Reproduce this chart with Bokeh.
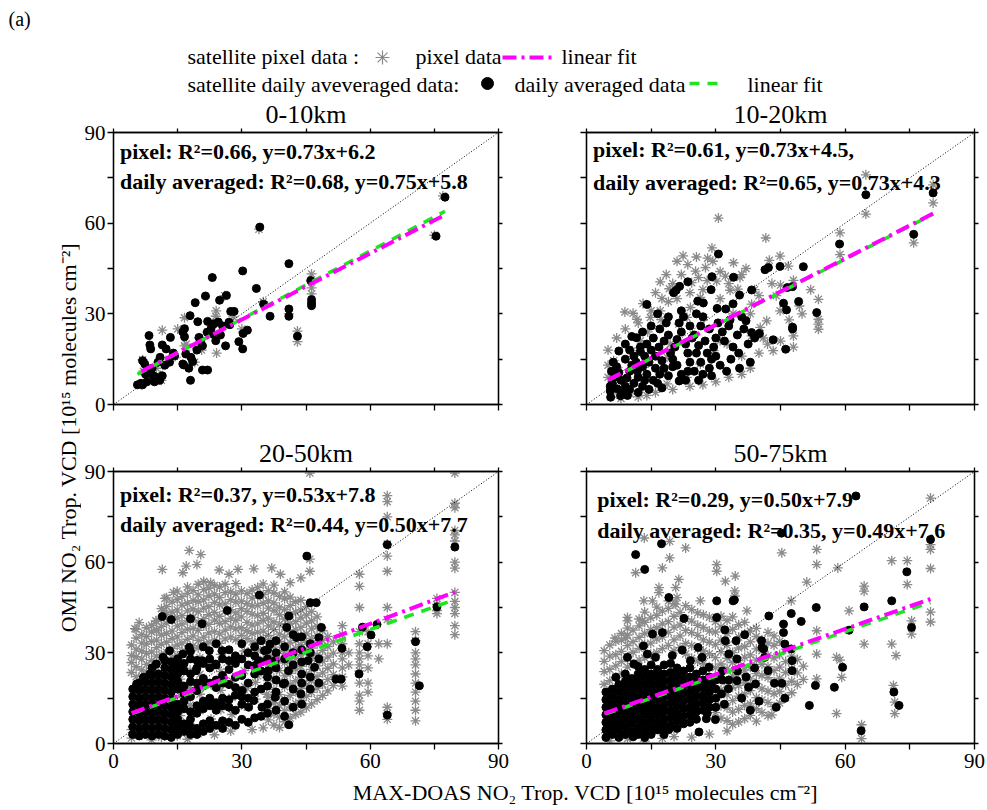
import numpy as np
from bokeh.plotting import figure
from bokeh.layouts import column, row
from bokeh.models import Range1d, LinearAxis, FixedTicker, Title
from bokeh.embed import file_html
from bokeh.resources import INLINE
from bokeh.core.properties import value

FONT = "Liberation Serif"

titles = ["0-10km", "10-20km", "20-50km", "50-75km"]
pixel_fit = [(0.73, 6.2), (0.73, 4.5), (0.53, 7.8), (0.50, 7.9)]
daily_fit = [(0.75, 5.8), (0.73, 4.3), (0.50, 7.7), (0.49, 7.6)]
pixel_r2 = ["0.66", "0.61", "0.37", "0.29"]
daily_r2 = ["0.68", "0.65", "0.44", "0.35"]
pixel_tail = ["", ",", "", ""]
axis_ticks = [0, 30, 60, 90]
minor_ticks = [15, 45, 75]
all_ticks = [0, 15, 30, 45, 60, 75, 90]

# data: (MAX-DOAS value, OMI value or list of OMI values)
pix1 = [(46.3, [43.2, 38.6, 36.6]), (43.0, [24.3, 20.8]), (16.6, [28.7, 19.4]), (11.4, 24.6), (23.9, 29.2),
        (24.1, 17.0), (11.2, 8.0), (6.5, 6.5), (20.6, 18.0), (6.8, 14.8), (24, 31), (20, 22), (8, 10), (10, 12),
        (30, 25), (35, 34), (41, 30), (28, 29), (13, 15), (17, 20), (22, 24), (75, 56), (77, 69), (34, 58),
        (26, 36), (19, 14), (9, 8), (7, 11), (15, 25), (27, 27)]
day1 = [(77.5, 68.6), (75.4, 55.7), (34.2, 58.7), (41.0, [46.6, 31.6, 29.2]), (30.2, [44.2, 18.4]),
        (23.1, [42.0, 23.3]), (33.4, 38.4), (46.1, 41.0), (26.4, 36.1), (21.5, 35.9), (24.8, 34.5), (19.1, 33.7),
        (35.1, 33.2), (46.3, [34.7, 33.6, 32.7]), (28.2, 30.8), (27.4, 30.8), (36.6, 29.2), (17.9, 29.4),
        (19.7, 27.4), (23.5, 26.7), (24.5, 27.3), (22.8, 25.1), (27.0, 27.2), (27.2, 26.4), (16.6, [25.1, 22.4]),
        (16.2, [24.0, 13.4]), (31.3, 24.6), (30.3, 23.5), (8.3, 22.8), (13.3, 22.2), (20.0, 22.2), (20.4, 21.1),
        (21.9, 23.9), (23.9, 21.1), (11.4, [19.7, 9.5]), (12.3, 18.4), (8.5, [19.7, 11.0]), (8.7, 18.4),
        (29.3, 20.8), (26.2, 19.4), (20.8, [19.4, 11.4]), (19.5, 18.0), (18.1, 15.6), (16.9, 16.7), (16.4, 13.1),
        (14.3, 16.1), (13.1, 14.0), (18.5, 14.2), (17.6, 12.0), (10.9, 15.6), (10.4, 14.0), (7.3, 13.4),
        (6.8, [14.5, 6.5]), (22.0, [11.4, 27.5]), (7.5, 10.0), (9.3, 9.5), (10.0, 9.0), (10.8, 8.0), (6.4, 7.0),
        (7.8, 7.5), (9.6, 7.5), (18.0, 8.0), (5.6, 6.5), (43.0, 22.6), (25.5, 26.0), (14.0, 17.0), (12.0, 13.0),
        (9.0, 12.0), (25.0, 23.0)]

pix2 = [(64.8, [76, 63]), (30.6, 61.7), (41.6, 55.1), (29.1, 51.8), (25.5, 48.8), (21.0, 47.4), (23.5, 46.3),
        (18.5, 43.0), (17.1, [40.6, 31.0]), (17.5, 35.1), (8.9, 30.6), (14.2, 24.0), (29.3, 47.4), (34.1, 46.9),
        (35.6, 42.0), (33.3, 37.8), (38.3, [33.2, 22.7]), (42.4, 47.7), (44.9, [49.1, 31.0]), (46.8, 45.8),
        (45.0, 39.5), (48.0, 41.1), (49.4, 32.6), (41.8, 27.7), (40.3, 25.5), (43.3, 17.8), (58.8, [56.8, 49.6]),
        (53.8, [34.8, 28.2, 26.6, 24.9]), (75.9, 53.5), (80.4, [66.7, 72.7]), (32.6, 20.0), (31.0, 21.1),
        (27.2, 28.8), (26.4, [35.4, 13.4]), (24.1, 32.1), (23.3, [28.8, 9.0]), (21.4, 26.6), (19.4, 20.0),
        (18.7, [15.6, 6.8]), (13.3, 12.3), (10.2, 3.5), (9.0, 4.5), (6.3, 14.5), (7.5, 11.2), (14.8, 28.8),
        (12.5, 21.1), (10.6, 17.8), (29.5, 17.8), (6, 3.5), (8, 2), (12, 2.5), (14, 3), (16, 4), (20, 5), (24, 6),
        (27, 6.5), (30, 7.5), (33, 9), (36, [10, 16, 43]), (38, [12, 30]), (40, [17, 36]), (42, 20), (34, 30),
        (31, [35, 44]), (27, 38), (24, 37), (19, 34), (15, 31), (12, 27), (9, 25), (7, 22), (5, [18, 13, 9]),
        (43, 40), (26, 42), (22, 43), (20, 40), (21, 35), (11.7, 28.2), (16, 37), (28, 41), (33, 40), (37, 45),
        (39, 38), (44, 36), (47, 28), (50, 30), (52, 38), (45, 21), (48, [19, 22.7]), (41, 22),
        (22.4, 49.2), (25.3, 44.1), (27.6, 45.3), (30.2, 40.8), (19.2, 38.3), (13.1, 33.4), (10.8, 30.2),
        (28.1, 48.4), (32.2, 42.5), (35.1, 38.2), (24.4, 40.3), (17.3, 28.1)]
day2 = [(80.4, 70.0), (64.8, 69.4), (75.9, 56.3), (58.7, 53.1), (50.3, 45.6), (44.9, 45.7), (42.2, 45.3),
        (41.4, 44.6), (30.6, 49.8), (34.1, 42.1), (29.1, 42.3), (23.5, [40.6, 17, 11]), (21.6, 39.1), (20.8, 37.8),
        (14.0, [33.1, 10, 20]), (38.3, [37.9, 23.8]), (35.5, [36.2, 12]), (34.0, [33.3, 19]), (32.3, 31.6),
        (30.3, 31.8), (25.8, 34.2), (27.1, 33.6), (20.2, 37.0), (28.9, 38.0), (45.7, 33.5), (46.4, 31.3),
        (47.8, [39.0, 25.6, 25.0]), (46.6, 38.7), (49.2, 34.1), (43.3, 21.4), (46.2, 18.3), (35.3, 17.0),
        (40.1, 23.5), (53.4, 30.4), (37.0, 27.7), (33.3, 28.0), (11.6, 22.1), (7.5, [17.7, 10.5]),
        (5.5, [4.5, 6]), (5.6, 2.4), (7.9, 2.9), (7.1, 5.2), (6.0, 7), (6.5, 9), (5.8, 11), (7.0, 12.5), (6.2, 14),
        (8.0, 8), (8.5, 4), (9.0, [6, 15, 20]), (9.4, 8.8), (10.0, [11, 18, 5]), (10.5, [13, 22.5]), (11.0, [16, 7]),
        (11.5, 14), (12.0, [9, 4]), (9.5, 3), (11.8, 11), (12.5, [19, 17.5]), (13.0, [6, 12.5, 24]),
        (13.5, [8, 16]), (14.5, [14, 5]), (15.0, [18, 26]), (15.5, [22, 8]), (16.0, [12, 16]), (16.5, [7, 30]),
        (17.0, [10, 25]), (18.0, [12, 21]), (17.5, [14.5, 5.5]), (16.8, 19), (19.0, [23, 9.5, 29]), (18.5, 27),
        (19.5, 17), (20.0, [12.5, 15]), (20.5, 19), (21.0, [21.5, 13]), (22.0, [24, 10, 31]), (21.5, [27, 7.8]),
        (22.5, 29), (23.0, [20, 8]), (24.0, [14, 26]), (24.5, 22), (25.0, [11, 23]), (25.5, [17, 30]),
        (26.0, [19.5, 8]), (26.5, [26, 14]), (27.0, [29, 10]), (27.5, 21), (28.0, 17), (28.5, [12, 25]),
        (29.0, [15, 9.5]), (29.5, 19), (30.0, [22, 16]), (30.5, 27), (31.0, 13), (31.5, 24), (32.0, 21), (33.0, 26),
        (33.5, 15), (35.0, 23), (32.5, 11), (36.5, 25), (37.5, 20), (38.0, 14), (39.0, 22), (36.0, 29)]

pix3 = [(4.2, [1.8, 4.6, 23.5, 26.8, 29.1, 32.6]), (5.3, [22.1, 25.4, 28.7, 31.2, 34.9, 37.8]),
        (6.6, [2.7, 21.4, 24.3, 27.9, 30.6, 33.2, 36.1]), (7.7, [23.6, 26.2, 29.8, 32.9, 35.4, 38.3]),
        (8.9, [1.2, 24.8, 27.5, 30.3, 33.8, 36.9, 39.1]), (10.1, [25.2, 28.9, 31.7, 34.2, 37.6, 40.4]),
        (11.2, [2.1, 26.6, 29.4, 32.8, 35.9, 38.7, 41.3, 44.6]),
        (12.4, [27.3, 30.2, 33.5, 36.4, 39.8, 42.7, 45.3, 48.2]),
        (13.7, [28.5, 31.4, 34.7, 37.2, 40.9, 43.5, 46.8]),
        (14.9, [2.6, 29.1, 32.6, 35.3, 38.9, 41.6, 44.2, 47.7, 50.4]),
        (16.0, [30.4, 33.2, 36.7, 39.5, 42.3, 45.8, 48.6]),
        (17.3, [1.4, 31.2, 34.5, 37.8, 40.6, 43.9, 46.4, 49.7, 51.8]),
        (18.6, [32.3, 35.6, 38.1, 41.7, 44.5, 47.3, 50.6]),
        (19.8, [3.2, 31.6, 34.1, 37.4, 40.2, 43.6, 46.9, 49.2, 52.7]),
        (21.1, [32.8, 35.2, 38.9, 41.3, 44.8, 47.5, 50.9, 53.6]),
        (22.3, [33.5, 36.6, 39.4, 42.6, 45.3, 48.8, 51.4]),
        (23.6, [2.9, 34.2, 37.1, 40.8, 43.4, 46.7, 49.5, 52.3]),
        (24.8, [33.1, 36.2, 39.7, 42.1, 45.9, 48.3, 51.8]),
        (26.1, [34.6, 37.5, 40.3, 43.8, 46.2, 49.9, 52.7]),
        (27.4, [4.1, 35.2, 38.6, 41.5, 44.3, 47.6, 50.2]),
        (28.6, [34.4, 37.9, 40.7, 43.2, 46.8, 49.4, 52.9]),
        (29.9, [35.8, 38.3, 41.9, 44.6, 47.1, 50.5]),
        (31.2, [18.3, 34.7, 37.3, 40.1, 43.7, 46.3, 49.6]),
        (32.4, [4.6, 33.6, 36.4, 39.2, 42.8, 45.5, 48.1, 50.8]),
        (33.7, [22.4, 30.8, 33.9, 36.8, 39.6, 42.3, 45.7, 48.9, 51.6]),
        (35.0, [5.2, 27.9, 31.1, 34.5, 37.2, 40.7, 43.1, 46.4, 49.3, 52.8]),
        (36.2, [7.8, 11.6, 15.3, 19.7, 23.5, 26.4, 29.6, 33.2, 35.8, 38.9, 41.5, 44.8, 47.2, 50.6]),
        (37.5, [6.1, 9.8, 13.4, 17.9, 21.6, 25.8, 28.3, 31.9, 34.6, 37.7, 40.2, 43.9, 46.5, 49.8, 52.4]),
        (38.8, [5.3, 8.7, 12.5, 16.2, 20.3, 24.1, 27.5, 30.4, 33.8, 36.2, 39.5, 42.6, 45.1, 48.7]),
        (40.0, [7.2, 10.9, 14.6, 18.8, 22.4, 26.7, 29.8, 32.5, 35.3, 38.6, 41.2, 44.3, 47.9, 50.2]),
        (41.3, [8.4, 12.1, 15.9, 19.6, 23.2, 27.3, 30.6, 33.4, 36.9, 39.7, 42.8, 45.6, 48.4]),
        (42.6, [9.6, 13.2, 17.1, 20.8, 24.6, 28.1, 31.5, 34.2, 37.6, 40.3, 43.5, 46.9]),
        (43.8, [10.4, 14.3, 18.2, 21.9, 25.5, 29.4, 32.7, 35.6, 38.4, 41.6, 44.2, 47.4]),
        (45.1, [11.8, 15.6, 19.4, 23.1, 26.9, 30.2, 33.5, 36.3, 39.8, 42.5, 45.3]),
        (46.3, [13.1, 16.9, 20.7, 24.5, 28.2, 31.6, 34.8, 37.9, 40.6, 43.7]),
        (47.6, [14.5, 18.3, 22.1, 25.7, 29.3, 32.9, 35.7, 38.8, 41.9]),
        (48.9, [15.9, 19.6, 23.4, 27.2, 30.8, 34.1, 37.3]), (50.1, [17.4, 21.2, 24.9, 28.6, 32.1, 35.4]),
        (51.4, [19.2, 22.8, 26.3, 29.9, 33.6]),
        (15.6, [9.2, 15.8, 21.3]), (17.9, [6.4, 12.7, 18.6, 24.2]), (20.2, [10.8, 16.3, 22.9, 28.4]),
        (22.8, [8.1, 13.9, 19.4, 25.6]), (25.1, [11.2, 17.6, 23.8, 29.5]), (27.7, [9.6, 15.2, 20.7, 27.9]),
        (30.6, [12.4, 18.9, 24.1, 30.6]), (33.2, [14.7, 20.2, 26.5]), (35.8, [16.3, 21.8, 27.2]),
        (53.5, [19, 22, 25, 28, 30, 33, 36, 39]), (55.0, [26, 30]),
        (57.5, [11, 14, 16, 20, 24, 26, 28, 30, 33, 37, 45, 52, 56]),
        (59.5, [17, 20, 25, 29, 33, 37]), (62.0, [28, 33]), (64.0, [8, 10, 12, 33, 41, 45, 57, 62, 66, 75, 80, 82]),
        (70.6, [7.5, 11, 14, 17, 20, 23, 26, 28, 30, 34, 37]), (75.6, [43, 44, 46, 48]),
        (79.8, [36, 39, 43, 45, 47, 50, 58, 60, 67, 69, 70.5, 78, 79.5, 89.5]), (45.9, [57, 61, 89.5]),
        (11.4, 57.6), (17.7, 63.9), (20.4, 62.5), (17.0, 58.7), (19.5, 59.2), (16.2, 56.5), (22.7, 53.2),
        (24.7, 57.4), (29.1, 57.6), (32.8, 57.8), (37.0, 58.1), (41.3, 53.2), (43.8, 54.8), (10.0, 37.3),
        (11.7, 43.9), (9.9, 40.6), (39.0, 56), (27.0, 56), (14.0, 50), (12.0, 48), (6.0, 40), (5.0, 38)]
day3 = [(64.0, [65.8, 9.4]), (79.8, 65.0), (75.6, 45.2), (70.6, 33.7), (71.5, 19.1), (57.4, 23.0), (58.2, 38.5),
        (60.2, 35.9), (59.3, 32.0), (61.6, 39.4), (53.4, 31.5), (52.0, 21.3), (53.2, 21.3), (45.2, 62.0),
        (46.0, 46.6), (47.4, 46.6), (34.1, 49.1), (41.0, [42.2, 6.2]), (26.6, 44.0), (11.4, 42.0), (13.5, 41.0),
        (18.0, 41.3), (20.7, 39.6), (19.5, 3.0), (48.6, 38.4), (44.0, [35.3, 23.0]), (42.8, 35.1), (40.5, 38.4),
        (36.6, 32.9), (35.3, 30.7), (33.9, 27.4), (33.0, 25.7), (37.8, [27.4, 15.3]), (36.2, 24.1), (45.5, 27.4),
        (47.0, 25.2), (43.8, 16.4), (40.9, 24.1), (39.7, 19.7), (34.7, 12.0), (32.8, 14.2), (31.6, 12.0),
        (30.1, 17.5), (28.5, 21.9), (27.0, 27.4), (25.4, 30.7), (23.9, 26.3), (22.4, 30.7), (20.8, 27.4),
        (19.3, 24.1), (17.7, 31.8), (16.2, 29.6), (14.6, 26.3), (13.1, 30.7), (11.6, 28.5), (10.0, 26.3),
        (8.5, 23.0), (7.0, 21.9), (5.4, 19.7),
        (4.5, [3, 5.5, 8, 10.5, 13, 15.5, 18]), (6.0, [2.5, 5, 7.5, 10, 12.5, 15, 17.5, 20]),
        (7.5, [3, 5.5, 8, 10.5, 13, 15.5, 18, 20.5]), (9.0, [2.5, 5, 7.5, 10, 12.5, 15, 17.5, 20, 22.5, 25]),
        (10.5, [3, 5.5, 8, 10.5, 13, 15.5, 18, 20.5, 23]),
        (12.0, [2.5, 5, 7.5, 10, 12.5, 15, 17.5, 20, 22.5, 25, 27.5]),
        (13.5, [2, 4.5, 7, 9.5, 12, 14.5, 17, 19.5, 22, 24.5, 27]),
        (15.0, [3, 5.5, 8, 10.5, 13, 18, 20.5, 23, 25.5, 28]),
        (16.5, [4, 6.5, 11.5, 14, 16.5, 19, 24, 26.5]),
        (18.0, [3, 5.5, 8, 10.5, 15.5, 20.5, 23, 28, 30.5]),
        (19.5, [5, 10, 12.5, 17.5, 20, 25, 27.5]), (21.0, [4, 6.5, 11.5, 14, 19, 21.5, 26.5, 32]),
        (22.5, [5, 7.5, 12.5, 15, 20, 25, 28]), (24.0, [6, 11, 13.5, 18.5, 21, 26, 33]),
        (25.5, [5, 7.5, 12.5, 15, 20, 22.5, 28]), (27.0, [7, 12, 14.5, 19.5, 24.5, 31]),
        (28.5, [6, 11, 16, 18.5, 26.5, 29]), (30.0, [8, 13, 15.5, 22.5, 28, 33]), (31.5, [7, 15, 20, 26, 30]),
        (33.0, [8.5, 17, 23, 29, 32]), (34.5, [9, 18, 24, 27, 34]), (36.0, [10, 13, 19, 22, 28, 31]),
        (38.0, [11, 17, 21, 25, 30, 34]), (40.0, [9, 14, 20, 28, 32]), (42.0, [12, 18, 26, 30, 36]),
        (44.0, [13, 20, 27, 31]), (46.0, [18, 22, 30, 33]), (48.0, [20, 28, 35])]

pix4 = [(4.1, [19.6, 23.8, 27.2, 30.7]), (5.4, [0.9, 20.8, 24.5, 28.9, 32.6]), (6.8, [21.9, 25.7, 29.4, 33.8]),
        (8.1, [23.2, 27.1, 30.5, 34.2, 36.4]), (9.5, [1.6, 25.3, 28.6, 32.4, 35.9, 38.2]),
        (10.8, [26.4, 30.2, 33.7, 37.5]), (12.2, [27.6, 31.5, 35.1, 38.9, 41.2]),
        (13.5, [0.8, 28.3, 32.8, 36.4, 40.1, 43.5]), (14.9, [29.5, 33.2, 37.7, 41.6]),
        (16.3, [30.1, 34.6, 38.3, 42.4, 45.1]), (17.6, [1.7, 31.4, 35.2, 39.6, 43.8]),
        (19.0, [32.5, 36.8, 40.3, 44.7, 47.2]), (20.3, [2.3, 30.7, 34.3, 38.5, 42.1, 46.3]),
        (21.7, [31.8, 35.6, 39.2, 43.4]), (23.0, [29.6, 33.1, 37.4, 41.2, 45.6]),
        (24.4, [2.1, 28.2, 32.4, 36.7, 40.5, 44.3]), (25.8, [27.3, 31.2, 35.8, 39.1, 43.2]),
        (27.1, [26.5, 30.6, 34.3, 38.4, 42.6]), (28.5, [3.1, 25.4, 29.7, 33.5, 37.2, 41.8]),
        (29.9, [10.2, 14.6, 25.1, 28.4, 32.7, 36.9, 40.3]), (31.2, [8.4, 12.5, 17.8, 26.3, 30.4, 34.2, 38.6, 42.1]),
        (32.6, [4.2, 7.6, 11.8, 16.1, 20.4, 24.7, 28.2, 32.5, 36.4, 40.7]),
        (33.9, [6.3, 10.4, 14.2, 18.6, 22.3, 26.8, 30.1, 37.8, 41.9]),
        (35.3, [7.1, 11.3, 15.7, 19.2, 23.5, 27.4, 31.6, 35.2, 39.3]),
        (36.7, [8.2, 12.6, 16.4, 20.1, 24.3, 28.5, 32.1, 36.3, 40.1]),
        (38.0, [9.3, 13.1, 17.5, 21.4, 25.2, 29.3, 33.6, 37.2]),
        (39.4, [7.4, 11.5, 15.2, 19.8, 23.1, 27.6, 31.3, 35.4, 38.1]),
        (40.7, [10.3, 14.4, 18.1, 22.5, 26.2, 30.7, 34.3]), (42.1, [9.2, 13.6, 17.3, 21.8, 25.4, 29.1, 33.2, 36.8]),
        (43.5, [12.2, 16.5, 20.4, 24.1, 28.3, 32.5, 35.6]), (44.8, [13.4, 17.2, 21.6, 25.3, 29.4, 33.8]),
        (46.2, [15.1, 19.3, 23.5, 27.1, 31.2]), (47.6, [16.8, 20.6, 24.7, 28.9]), (48.9, [19.5, 23.4, 27.8]),
        (50.3, [21.2, 25.6]),
        (45.3, 63.1), (53.4, [64.2, 59.2, 37.3, 29.6, 21.4]), (70.8, [60.5, 32.9]),
        (74.4, [60.5, 52.6]), (79.8, [81.2, 65.8, 64.2, 57.9, 43.5, 40.2]), (58.3, 58.1), (64.4, [52.1, 50.4, 32.9]),
        (60.9, 43.9), (71.8, 29.1), (75.4, [40.6, 36.2]), (71.2, 19.2), (71.5, [13.7, 9.9]), (63.8, [6.2, 1.6]),
        (58.0, [28.5, 9.9]), (58.8, 27.6), (59.2, 21.9), (51.1, 53.4), (47.5, 47.2), (43.0, 9.5), (37.2, 43.9),
        (34.5, 55.4), (32.2, 53.7), (34.4, [50.5, 48.8]), (30.2, [59.2, 57.0]), (26.4, 47.2), (21.4, 54.3),
        (20.7, [51.6, 46.1]), (16.8, [51.6, 49.9]), (13.3, 47.2), (15.3, 47.2), (9.5, [41.7, 40.6]), (6.6, 34.9),
        (9.1, 34.9), (13.0, 40.6), (21.0, 48.3), (13.4, 68.0), (19.3, [66.9, 61.4]), (23.0, 64.7), (17.6, 58.1),
        (11.4, 56.5)]
day4 = [(62.5, 81.9), (45.2, 69.6), (17.4, 66.1), (11.4, 62.5), (13.5, 57.6), (79.8, 67.5), (74.3, 56.8),
        (75.4, 38.4), (70.8, 47.2), (64.4, 45.2), (53.3, 45.0), (60.9, 37.5), (19.1, [48.3, 4.6]),
        (30.2, [47.2, 41.7]), (34.0, 47.2), (34.3, 47.5), (22.6, 41.4), (17.6, 36.7), (13.2, 32.3), (15.3, 36.2),
        (32.1, 37.6), (42.3, 42.2), (47.5, [43.0, 31.3]), (49.8, 40.4), (36.7, 36.0), (40.6, 34.0), (40.7, 31.8),
        (45.7, [39.5, 36.7]), (46.0, 32.9), (47.7, [27.4, 24.1]), (41.1, 31.3), (41.3, 28.5), (53.1, 19.2),
        (57.5, 18.6), (59.4, 25.2), (51.7, 12.6), (71.3, 17.0), (72.5, 12.6), (63.7, 4.2), (38.0, 11.0),
        (27.8, 8.2), (29.9, 7.9), (26.1, 3.8), (10.8, 2.2), (43.6, 19.9), (45.3, 19.9), (42.1, 24.1),
        (34.9, [28.0, 20.8]), (33.0, 29.6), (32.2, 34.0), (34.7, 34.0), (32.9, 18.1), (37.6, 18.6), (39.2, 19.7),
        (31.3, 16.4), (25.9, 31.8), (26.8, 28.5), (28.4, 25.2), (24.1, 27.4), (22.2, 30.9), (19.9, 29.1),
        (16.0, 28.5), (14.1, 29.6), (11.0, 26.3), (9.5, 28.5), (6.8, 21.9), (29, 20), (31, 22), (33, 21), (30, 15),
        (32, 13), (28, 10), (35, 24), (37, 22), (39, 25), (36, 15), (40, 14), (44, 12), (46, 15),
        (4.5, [2, 4.5, 7, 9.5, 12, 14.5, 17]), (6.0, [3, 5.5, 8, 10.5, 13, 15.5, 18]),
        (7.5, [2, 4.5, 7, 9.5, 12, 14.5, 17, 19.5]), (9.0, [3, 5.5, 8, 10.5, 13, 15.5, 18, 20.5, 23]),
        (10.5, [4, 6.5, 9, 11.5, 14, 16.5, 19, 21.5]), (12.0, [3, 5.5, 8, 10.5, 13, 15.5, 18, 20.5, 23, 25.5]),
        (13.5, [2, 4.5, 7, 9.5, 12, 14.5, 17, 19.5, 22, 24.5]), (15.0, [3, 5.5, 8, 10.5, 13, 15.5, 18, 20.5, 23, 26]),
        (16.5, [4.5, 7, 9.5, 12, 14.5, 17, 19.5, 22, 24.5]), (18.0, [3, 5.5, 8, 10.5, 13, 15.5, 18, 20.5, 23, 26]),
        (19.5, [6, 8.5, 11, 13.5, 16, 18.5, 21, 23.5, 26.5]), (21.0, [5, 7.5, 10, 12.5, 15, 17.5, 20, 22.5, 25]),
        (22.5, [6.5, 9, 11.5, 14, 16.5, 19, 21.5, 24]), (24.0, [7, 9.5, 12, 14.5, 17, 19.5, 22, 25]),
        (25.5, [8, 10.5, 13, 15.5, 18, 20.5, 23]), (27.0, [11, 13.5, 16, 18.5, 21, 24]),
        (28.5, [12, 14.5, 17, 19.5, 22]), (30.0, [12, 18, 21]), (31.5, [21, 24])]

pixel_data = [pix1, pix2, pix3, pix4]
daily_data = [day1, day2, day3, day4]

x_label = "MAX-DOAS NO\u2082 Trop. VCD [10\u00b9\u2075 molecules cm\u207b\u00b2]"
y_label = "OMI NO\u2082 Trop. VCD [10\u00b9\u2075 molecules cm\u207b\u00b2]"
legend_pixel = ["satellite pixel data :", "pixel data", "linear fit"]
legend_daily = ["satellite daily aveveraged data:", "daily averaged data", "linear fit"]

GRAY = "#8a8a8a"
MAGENTA = "#ff00ff"
GREEN = "#1ee61e"


def flat(cols):
    xs, ys = [], []
    for x, v in cols:
        vals = v if isinstance(v, (list, tuple)) else [v]
        for y in vals:
            xs.append(x)
            ys.append(y)
    return np.array(xs, float), np.array(ys, float)


def text_fig(w, h, flip=True):
    f = figure(width=w, height=h, x_range=Range1d(0, w), y_range=Range1d(h, 0) if flip else Range1d(0, h),
               min_border=0, toolbar_location=None, output_backend="svg",
               x_axis_location=None, y_axis_location=None)
    f.outline_line_color = None
    f.grid.visible = False
    return f


def add_text(f, x, y, s, size, align="left", bold=False, angle=0):
    f.text(x=[x], y=[y], text=[s], text_font=value(FONT), text_font_size=size, text_color="black",
           text_align=align, text_baseline="middle", text_font_style="bold" if bold else "normal", angle=angle)


def make_panel(k, w, h, bl, br, bt, bb, left_lab, bottom_lab, tx, ty1, ty2, title_offset):
    p = figure(width=w, height=h, x_range=Range1d(0, 90), y_range=Range1d(0, 90),
               output_backend="svg", toolbar_location=None,
               x_axis_location=None, y_axis_location=None,
               min_border_left=bl, min_border_right=br, min_border_top=bt, min_border_bottom=bb)
    p.grid.visible = False
    p.outline_line_color = "black"
    p.outline_line_width = 1.3
    for loc in ("below", "left", "above", "right"):
        labeled = (loc == "below" and bottom_lab) or (loc == "left" and left_lab)
        if labeled:
            ax = LinearAxis(ticker=FixedTicker(ticks=axis_ticks, minor_ticks=minor_ticks))
            ax.major_label_text_font = FONT
            ax.major_label_text_font_size = "21px"
            ax.major_label_text_color = "black"
            ax.major_label_standoff = 2 if loc == "left" else 4
        else:
            ax = LinearAxis(ticker=FixedTicker(ticks=[], minor_ticks=all_ticks))
            ax.major_label_standoff = 0
        ax.axis_line_color = "black"
        ax.axis_line_width = 1.3
        ax.major_tick_line_color = "black"
        ax.minor_tick_line_color = "black"
        ax.major_tick_line_width = 1.3
        ax.minor_tick_line_width = 1.3
        ax.major_tick_in = 0
        ax.minor_tick_in = 0
        out = 6 if loc in ("below", "left") else 4
        ax.major_tick_out = out
        ax.minor_tick_out = out
        p.add_layout(ax, loc)

    # panel title, stacked above the top axis
    p.add_layout(Title(text=titles[k], align="center", offset=title_offset, standoff=0,
                       text_font=FONT, text_font_size="26px", text_font_style="normal",
                       text_color="black"), "above")

    px, py = flat(pixel_data[k])
    dx, dy = flat(daily_data[k])
    p.scatter(px, py, marker="asterisk", size=10, line_color=GRAY, line_width=1.3)
    p.line([p.x_range.start, p.x_range.end], [p.y_range.start, p.y_range.end],
           line_color="black", line_dash="1 2", line_width=1)
    p.scatter(dx, dy, marker="circle", size=8, fill_color="black", line_color="black")
    a, b = daily_fit[k]
    xe = np.array([dx.min(), dx.max()])
    p.line(xe, a * xe + b, line_color=GREEN, line_dash="10 8", line_width=3.5)
    a, b = pixel_fit[k]
    xe = np.array([px.min(), px.max()])
    p.line(xe, a * xe + b, line_color=MAGENTA, line_dash="14 5 3 5", line_width=4)

    pa, pb = pixel_fit[k]
    da, db = daily_fit[k]
    s1 = f"pixel: R\u00b2={pixel_r2[k]}, y={pa:.2f}x+{pb}{pixel_tail[k]}"
    s2 = f"daily averaged: R\u00b2={daily_r2[k]}, y={da:.2f}x+{db}"
    add_text(p, tx, ty1, s1, "22px", bold=True)
    add_text(p, tx, ty2, s2, "22px", bold=True)
    return p


W_YLAB, W_LEFT, W_RIGHT = 81, 461, 443
W_ALL = W_YLAB + W_LEFT + W_RIGHT
H_HEAD, H_TOP, H_BOT, H_XLAB = 97, 339, 343, 30

# header: panel label and legend
header = text_fig(W_ALL, H_HEAD)
add_text(header, 8, 18, "(a)", "20px")
add_text(header, 187, 56, legend_pixel[0], "22px")
header.scatter([382], [57], marker="asterisk", size=14, line_color=GRAY, line_width=1.2)
add_text(header, 415, 56, legend_pixel[1], "22px")
header.line([502, 551], [57, 57], line_color=MAGENTA, line_dash="14 5 3 5", line_width=4)
add_text(header, 561, 56, legend_pixel[2], "22px")
add_text(header, 187, 84, legend_daily[0], "22px")
header.scatter([487], [83], marker="circle", size=12, fill_color="black", line_color="black")
add_text(header, 514, 84, legend_daily[1], "22px")
header.line([689, 725], [83, 83], line_color=GREEN, line_dash="10 8", line_width=3.5)
add_text(header, 747, 84, legend_daily[2], "22px")

p1 = make_panel(0, W_LEFT, H_TOP, 29, 44, 34, 32, True, False, 1.5, 83.8, 73.8, 0)
p2 = make_panel(1, W_RIGHT, H_TOP, 44, 11, 34, 32, False, False, 1.5, 84.3, 73.3, 2)
p3 = make_panel(2, W_LEFT, H_BOT, 29, 44, 34, 36, True, True, 1.5, 82.3, 72.3, -9)
p4 = make_panel(3, W_RIGHT, H_BOT, 44, 11, 34, 36, False, True, 2.5, 80.6, 70.6, -3)

ylab = text_fig(W_YLAB, H_TOP + H_BOT, flip=False)
add_text(ylab, 68, 342, y_label, "22px", align="center", angle=np.pi / 2)

xlab = text_fig(W_ALL, H_XLAB)
add_text(xlab, 585, 13, x_label, "22px", align="center")

layout = column(header,
                row(ylab, column(row(p1, p2), row(p3, p4))),
                xlab)

open("out.html", "w").write(file_html(layout, INLINE))
